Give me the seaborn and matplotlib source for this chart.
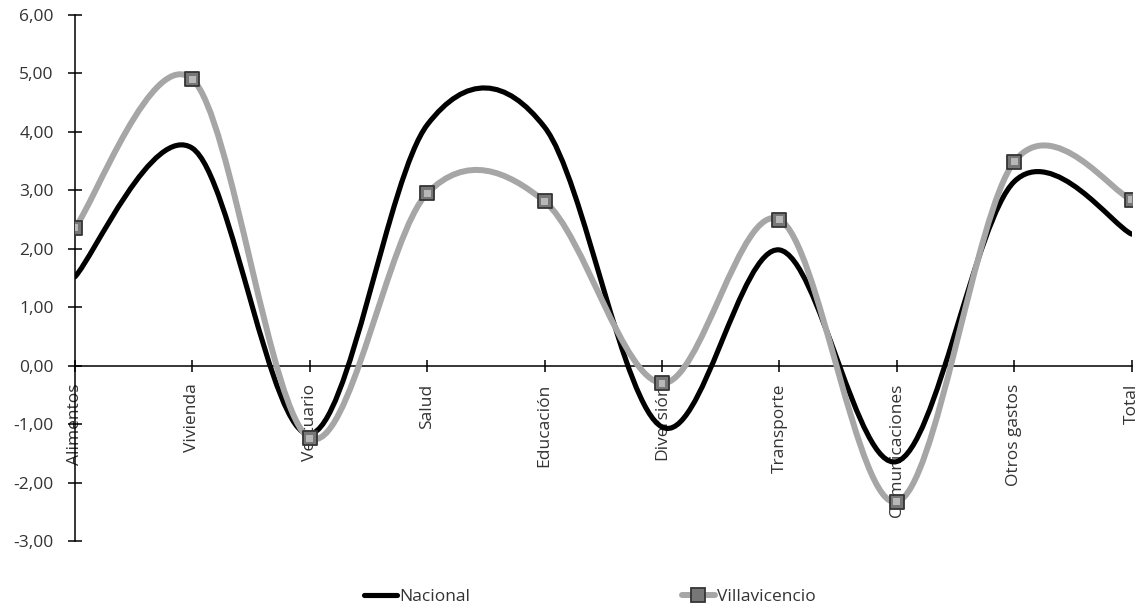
"""
Variación de precios por grupo de gasto: Nacional vs Villavicencio.
Líneas suavizadas al estilo Excel (Bezier por los puntos de datos).
"""

import matplotlib
matplotlib.use("Agg")
import matplotlib.pyplot as plt
import matplotlib.ticker as mtick
from matplotlib.path import Path
from matplotlib.patches import PathPatch
from matplotlib.lines import Line2D
import pandas as pd
import seaborn as sns

# ── Data ───────────────────────────────────────────────────────────────────────
CATEGORIES = ["Alimentos", "Vivienda", "Vestuario", "Salud", "Educación",
              "Diversión", "Transporte", "Comunicaciones", "Otros gastos", "Total"]
NACIONAL = [1.52, 3.72, -1.17, 4.12, 4.08, -1.05, 1.98, -1.64, 3.15, 2.25]
VILLAVICENCIO = [2.36, 4.90, -1.24, 2.95, 2.81, -0.30, 2.50, -2.33, 3.49, 2.84]
Y_TICKS = [-3, -2, -1, 0, 1, 2, 3, 4, 5, 6]

# ── Style ──────────────────────────────────────────────────────────────────────
BLACK = "#000000"
GREY_LINE = "#a6a6a6"
TEXT = "#333333"
FONT = ["Open Sans", "DejaVu Sans"]

sns.set_style("white")
plt.rcParams["font.family"] = FONT
plt.rcParams["font.size"] = 12.5


def smooth_path(xs, ys):
    """Excel-like smoothed line: cubic Bezier through every data point."""
    pts = list(zip(xs, ys))
    n = len(pts)
    verts = [pts[0]]
    codes = [Path.MOVETO]
    for i in range(n - 1):
        p_prev = pts[max(i - 1, 0)]
        p0 = pts[i]
        p1 = pts[i + 1]
        p_next = pts[min(i + 2, n - 1)]
        c1 = (p0[0] + (p1[0] - p_prev[0]) / 6, p0[1] + (p1[1] - p_prev[1]) / 6)
        c2 = (p1[0] - (p_next[0] - p0[0]) / 6, p1[1] - (p_next[1] - p0[1]) / 6)
        verts += [c1, c2, p1]
        codes += [Path.CURVE4] * 3
    return Path(verts, codes)


df = pd.DataFrame({"cat": CATEGORIES, "pos": range(len(CATEGORIES)),
                   "Nacional": NACIONAL, "Villavicencio": VILLAVICENCIO})

fig = plt.figure(figsize=(11.43, 6.14), dpi=100)
ax = fig.add_axes([0.0656, 0.1189, 0.9245, 0.8567])

# smoothed lines
ax.add_patch(PathPatch(smooth_path(df["pos"], df["Nacional"]), facecolor="none",
                       edgecolor=BLACK, lw=3.7, capstyle="round", zorder=3))
ax.add_patch(PathPatch(smooth_path(df["pos"], df["Villavicencio"]), facecolor="none",
                       edgecolor=GREY_LINE, lw=4.3, capstyle="round", zorder=4))

# bevelled square markers
sns.scatterplot(data=df, x="pos", y="Villavicencio", marker="s", s=105,
                color="#777777", edgecolor="#353535", linewidth=1.3, zorder=5, ax=ax)
sns.scatterplot(data=df, x="pos", y="Villavicencio", marker="s", s=24,
                color="#b8b8b8", edgecolor="none", linewidth=0, zorder=6, ax=ax)

# axes
ax.set_xlim(0, len(CATEGORIES) - 1)
ax.set_ylim(-3, 6)
ax.set_xlabel("")
ax.set_ylabel("")
for side in ["top", "right"]:
    ax.spines[side].set_visible(False)
ax.spines["bottom"].set_position(("data", 0))
ax.spines["bottom"].set_zorder(2)
for side in ["left", "bottom"]:
    ax.spines[side].set_color(BLACK)
    ax.spines[side].set_linewidth(1.1)

ax.set_yticks(Y_TICKS)
ax.yaxis.set_major_formatter(mtick.FuncFormatter(lambda v, _: f"{v:.2f}".replace(".", ",")))
ax.tick_params(axis="y", direction="inout", length=9.5, width=1.1, pad=10.5,
               colors=BLACK, labelcolor=TEXT, labelsize=12.5, left=True)
ax.set_xticks(df["pos"])
ax.set_xticklabels(CATEGORIES, rotation=90, va="top", ha="center")
ax.tick_params(axis="x", direction="inout", length=8, width=1.1, pad=9,
               colors=BLACK, labelcolor=TEXT, labelsize=12.5, bottom=True)
for lbl in ax.get_xticklabels():
    lbl.set_zorder(7)

# legend
handles = [
    Line2D([0], [0], color=BLACK, lw=3.7, solid_capstyle="round"),
    Line2D([0], [0], color=GREY_LINE, lw=4.3, marker="s", markersize=10,
           markerfacecolor="#777777", markeredgecolor="#353535", markeredgewidth=1.3),
]
fig.legend(handles, ["Nacional", "Villavicencio"], loc="center",
           bbox_to_anchor=(0.516, 0.028), ncol=2, frameon=False,
           handlelength=1.9, handletextpad=0.1, columnspacing=12.2,
           labelcolor=TEXT, fontsize=12.5)

fig.savefig("out.png", dpi=100)
